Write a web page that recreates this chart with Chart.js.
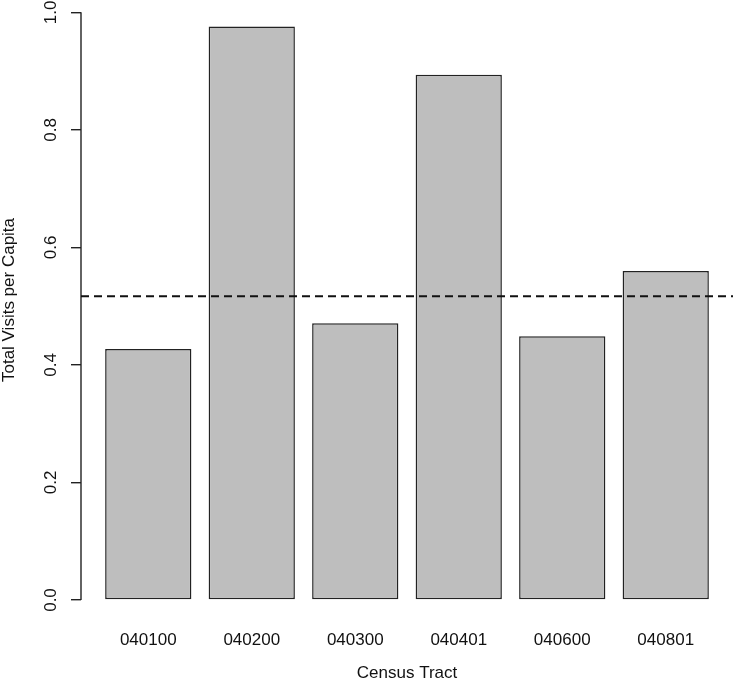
<!DOCTYPE html>
<html>
<head>
<meta charset="utf-8">
<script src="https://cdn.jsdelivr.net/npm/chart.js@4.4.1/dist/chart.umd.min.js"></script>
<style>
  html, body { margin: 0; padding: 0; background: #fff; }
  #wrap { width: 733px; height: 682px; }
</style>
</head>
<body>
<div id="wrap"><canvas id="chart"></canvas></div>
<script>
// Datos
const tracts = ['040100', '040200', '040300', '040401', '040600', '040801'];
const visitsPerCapita = [0.427, 0.976, 0.471, 0.894, 0.449, 0.560];
const referenceLine = 0.517;
const yTicks = [0, 0.2, 0.4, 0.6, 0.8, 1.0];

// Posiciones al estilo barplot de R: ancho 1, espacio 0.2, rango extendido 4%
const barSpace = 0.2;
const centers = tracts.map((_, i) => barSpace + 0.5 + i * (1 + barSpace));
const xLo = barSpace, xHi = tracts.length * (1 + barSpace);
const xPad = (xHi - xLo) * 0.04;
const yMax = 1.021;

const fontFamily = '"Liberation Sans", Arial, sans-serif';
const ink = '#111';

// Eje Y recortado (0 a 1) y línea de referencia discontinua
const extras = {
    id: 'extras',
    afterDatasetsDraw(chart) {
        const { ctx, chartArea, scales: { y } } = chart;
        ctx.save();
        ctx.strokeStyle = '#222';
        ctx.lineWidth = 1.4;
        ctx.beginPath();
        ctx.moveTo(chartArea.left, y.getPixelForValue(0));
        ctx.lineTo(chartArea.left, y.getPixelForValue(1));
        ctx.stroke();

        const yRef = y.getPixelForValue(referenceLine);
        ctx.setLineDash([8, 5]);
        ctx.lineWidth = 2;
        ctx.strokeStyle = '#111';
        ctx.beginPath();
        ctx.moveTo(chartArea.left, yRef);
        ctx.lineTo(chartArea.right, yRef);
        ctx.stroke();
        ctx.restore();
    }
};

new Chart(document.getElementById('chart'), {
    type: 'bar',
    data: {
        datasets: [{
            data: centers.map((c, i) => ({ x: c, y: visitsPerCapita[i] })),
            backgroundColor: '#bebebe',
            borderColor: '#222',
            borderWidth: 1.5,
            borderSkipped: false,
            categoryPercentage: 1,
            barPercentage: 1 / (1 + barSpace)
        }]
    },
    options: {
        responsive: true,
        maintainAspectRatio: false,
        animation: false,
        layout: { padding: 0 },
        plugins: {
            legend: { display: false },
            tooltip: { enabled: false }
        },
        scales: {
            x: {
                type: 'linear',
                offset: false,
                min: xLo - xPad,
                max: xHi + xPad,
                grid: { display: false, offset: false },
                border: { display: false },
                afterBuildTicks: s => { s.ticks = centers.map(v => ({ value: v })); },
                afterFit: s => { s.height = 82; s.paddingLeft = 0; s.paddingRight = 0; },
                ticks: {
                    autoSkip: false,
                    maxRotation: 0,
                    padding: 22,
                    color: ink,
                    font: { family: fontFamily, size: 17 },
                    callback: (v, i) => tracts[i]
                },
                title: {
                    display: true,
                    text: 'Census Tract',
                    color: ink,
                    padding: 0,
                    font: { family: fontFamily, size: 17, lineHeight: 1 }
                }
            },
            y: {
                min: 0,
                max: yMax,
                grid: {
                    drawOnChartArea: false,
                    drawTicks: true,
                    tickLength: 10,
                    color: '#222',
                    lineWidth: 1.4
                },
                border: { display: false },
                afterBuildTicks: s => { s.ticks = yTicks.map(v => ({ value: v })); },
                afterFit: s => { s.width = 81; s.paddingTop = 0; s.paddingBottom = 0; },
                ticks: {
                    minRotation: 90,
                    maxRotation: 90,
                    crossAlign: 'center',
                    padding: 8,
                    color: ink,
                    font: { family: fontFamily, size: 17 },
                    callback: v => v.toFixed(1)
                },
                title: {
                    display: true,
                    text: 'Total Visits per Capita',
                    color: ink,
                    padding: { top: 1, bottom: 0 },
                    font: { family: fontFamily, size: 17, lineHeight: 1 }
                }
            }
        }
    },
    plugins: [extras]
});
</script>
</body>
</html>
